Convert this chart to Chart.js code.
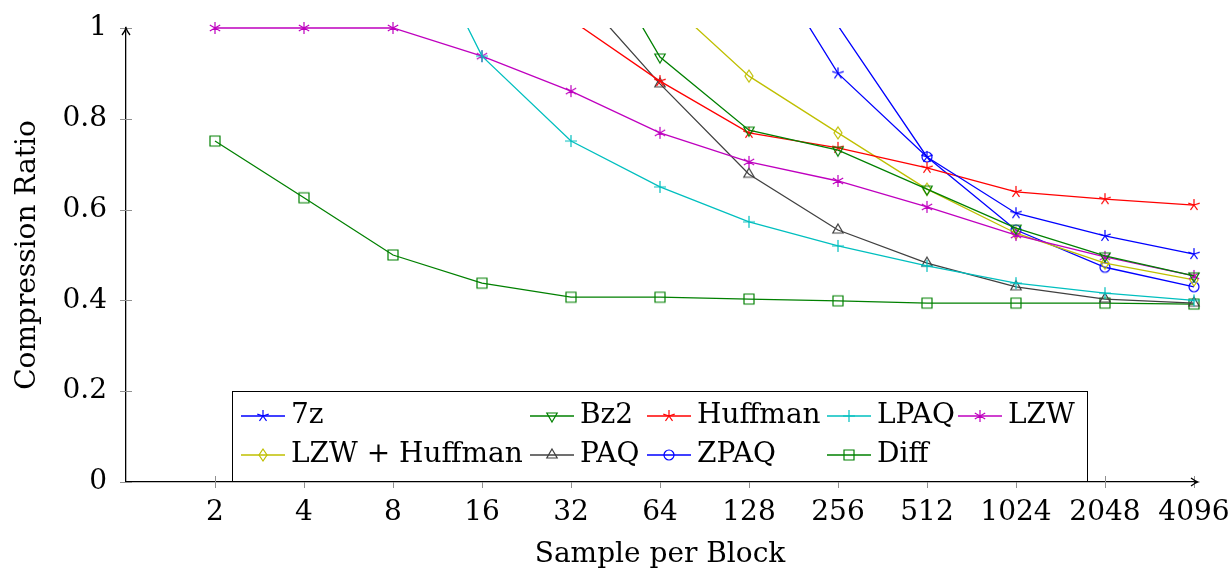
<!DOCTYPE html>
<html>
<head>
<meta charset="utf-8">
<script src="https://cdn.jsdelivr.net/npm/chart.js@4.4.1/dist/chart.umd.min.js"></script>
<style>
  html, body { margin: 0; padding: 0; background: #fff; }
  #wrap { width: 1232px; height: 572px; }
</style>
</head>
<body>
<div id="wrap"><canvas id="chart"></canvas></div>
<script>
// Sample sizes (x categories) and compression ratios
const blockSizes = [2, 4, 8, 16, 32, 64, 128, 256, 512, 1024, 2048, 4096];
const yTicks = [0, 0.2, 0.4, 0.6, 0.8, 1];

const sevenZ     = [null, null, null, null, null, null, 1.216, 0.900, 0.716, 0.592, 0.542, 0.502];
const bz2        = [null, null, null, null, 1.27, 0.936, 0.775, 0.731, 0.645, 0.559, 0.498, 0.454];
const huffman    = [null, null, null, null, 1.018, 0.883, 0.769, 0.736, 0.692, 0.639, 0.623, 0.610];
const lpaq       = [null, null, 1.33, 0.938, 0.751, 0.650, 0.573, 0.520, 0.476, 0.438, 0.416, 0.400];
const lzw        = [1.0, 1.0, 1.0, 0.938, 0.861, 0.769, 0.705, 0.663, 0.606, 0.544, 0.496, 0.454];
const lzwHuffman = [null, null, null, null, null, 1.073, 0.894, 0.769, 0.645, 0.548, 0.482, 0.445];
const paq        = [null, null, null, null, 1.097, 0.877, 0.678, 0.555, 0.482, 0.430, 0.403, 0.394];
const zpaq       = [null, null, null, null, null, null, null, 1.005, 0.716, 0.555, 0.473, 0.430];
const diff       = [0.751, 0.626, 0.500, 0.438, 0.407, 0.407, 0.403, 0.399, 0.394, 0.394, 0.394, 0.392];

const FONT = "'DejaVu Serif', serif";

// pgfplots-like marks drawn onto small canvases
function makeMark(kind, color) {
    const c = document.createElement('canvas');
    c.width = 16; c.height = 16;
    const g = c.getContext('2d');
    g.strokeStyle = color;
    g.lineWidth = 1.2;
    g.translate(8, 8);
    g.beginPath();
    const spokes = (n, r, start) => {
        for (let i = 0; i < n; i++) {
            const a = (start + i * 360 / n) * Math.PI / 180;
            g.moveTo(0, 0);
            g.lineTo(r * Math.cos(a), -r * Math.sin(a));
        }
    };
    if (kind === 'star') spokes(5, 6, 90);
    else if (kind === 'asterisk') spokes(6, 6, 90);
    else if (kind === 'plus') spokes(4, 6, 0);
    else if (kind === 'circle') g.arc(0, 0, 5, 0, Math.PI * 2);
    else if (kind === 'square') g.rect(-5, -5, 10, 10);
    else if (kind === 'diamond') { g.moveTo(0, -6); g.lineTo(4, 0); g.lineTo(0, 6); g.lineTo(-4, 0); g.closePath(); }
    else if (kind === 'triangle') { g.moveTo(0, -6); g.lineTo(5.2, 3); g.lineTo(-5.2, 3); g.closePath(); }
    else if (kind === 'triangleDown') { g.moveTo(0, 6); g.lineTo(5.2, -3); g.lineTo(-5.2, -3); g.closePath(); }
    g.stroke();
    return c;
}

const series = [
    { label: '7z', data: sevenZ, color: '#0000ff', mark: 'star' },
    { label: 'Bz2', data: bz2, color: '#008000', mark: 'triangleDown' },
    { label: 'Huffman', data: huffman, color: '#ff0000', mark: 'star' },
    { label: 'LPAQ', data: lpaq, color: '#00bfbf', mark: 'plus' },
    { label: 'LZW', data: lzw, color: '#bf00bf', mark: 'asterisk' },
    { label: 'LZW + Huffman', data: lzwHuffman, color: '#bfbf00', mark: 'diamond' },
    { label: 'PAQ', data: paq, color: '#404040', mark: 'triangle' },
    { label: 'ZPAQ', data: zpaq, color: '#0000ff', mark: 'circle' },
    { label: 'Diff', data: diff, color: '#008000', mark: 'square' }
];

const datasets = series.map(s => {
    const img = makeMark(s.mark, s.color);
    return {
        label: s.label,
        data: s.data.map((v, i) => ({ x: Math.log2(blockSizes[i]), y: v })),
        borderColor: s.color,
        backgroundColor: s.color,
        borderWidth: 1.3,
        pointStyle: img,
        pointRadius: ctx => (ctx.raw && ctx.raw.y > 1.0001) ? 0 : 5,
        pointHoverRadius: 5,
        tension: 0,
        clip: { left: 0, top: s.label === 'LZW' ? 10 : 0, right: 10, bottom: 0 },
        _img: img
    };
});

// ticks that cross the axes, plus arrow heads
const axisDecor = {
    id: 'axisDecor',
    afterDraw(chart) {
        const { ctx, chartArea: a, scales: { x, y } } = chart;
        ctx.save();
        ctx.strokeStyle = '#909090';
        ctx.lineWidth = 1;
        blockSizes.forEach(b => {
            const px = Math.round(x.getPixelForValue(Math.log2(b))) + 0.5;
            ctx.beginPath(); ctx.moveTo(px, a.bottom - 6); ctx.lineTo(px, a.bottom + 6); ctx.stroke();
        });
        yTicks.forEach(t => {
            const py = Math.round(y.getPixelForValue(t)) + 0.5;
            ctx.beginPath(); ctx.moveTo(a.left - 6, py); ctx.lineTo(a.left + 6, py); ctx.stroke();
        });
        ctx.strokeStyle = '#000';
        ctx.lineWidth = 1.3;
        ctx.beginPath();
        ctx.moveTo(a.left - 4, a.top + 7); ctx.quadraticCurveTo(a.left - 1, a.top + 3, a.left, a.top);
        ctx.quadraticCurveTo(a.left + 1, a.top + 3, a.left + 4, a.top + 7);
        ctx.moveTo(a.right, a.bottom); ctx.lineTo(a.right + 4, a.bottom);
        ctx.moveTo(a.right - 3, a.bottom - 4); ctx.quadraticCurveTo(a.right + 1, a.bottom - 1, a.right + 4, a.bottom);
        ctx.quadraticCurveTo(a.right + 1, a.bottom + 1, a.right - 3, a.bottom + 4);
        ctx.stroke();
        ctx.restore();
    }
};

// legend box laid out like the pgfplots one (5 columns)
const boxLegend = {
    id: 'boxLegend',
    afterDraw(chart) {
        const { ctx } = chart;
        const box = { left: 232.5, top: 391.5, right: 1087.5, bottom: 481.5 };
        const colX = [241, 530, 647, 827, 958];
        const rowY = [416, 455];
        ctx.save();
        ctx.fillStyle = '#fff';
        ctx.fillRect(box.left, box.top, box.right - box.left, box.bottom - box.top);
        ctx.strokeStyle = '#000';
        ctx.lineWidth = 1;
        ctx.strokeRect(box.left, box.top, box.right - box.left, box.bottom - box.top);
        ctx.font = '28px ' + FONT;
        ctx.textBaseline = 'middle';
        ctx.fillStyle = '#000';
        chart.data.datasets.forEach((ds, i) => {
            const cx = colX[i % 5];
            const cy = rowY[Math.floor(i / 5)];
            ctx.strokeStyle = ds.borderColor;
            ctx.lineWidth = 1.3;
            ctx.beginPath(); ctx.moveTo(cx, cy); ctx.lineTo(cx + 44, cy); ctx.stroke();
            ctx.drawImage(ds._img, cx + 22 - 8, cy - 8);
            ctx.fillText(ds.label, cx + 50, cy);
        });
        ctx.restore();
    }
};

new Chart(document.getElementById('chart'), {
    type: 'line',
    data: { datasets },
    options: {
        responsive: true,
        maintainAspectRatio: false,
        animation: false,
        layout: { padding: { left: 0, right: 38, top: 28, bottom: 0 } },
        plugins: { legend: { display: false }, tooltip: { enabled: false } },
        scales: {
            x: {
                type: 'linear',
                min: 0,
                max: 12,
                afterFit: s => { s.height = 90; s.paddingLeft = 0; s.paddingRight = 0; },
                afterBuildTicks: s => { s.ticks = blockSizes.map(b => ({ value: Math.log2(b) })); },
                ticks: {
                    callback: v => blockSizes[v - 1],
                    font: { family: FONT, size: 28 },
                    color: '#000',
                    padding: 14,
                    maxRotation: 0,
                    autoSkip: false
                },
                grid: { display: false, drawTicks: false },
                border: { display: true, color: '#000', width: 1.3 },
                title: {
                    display: true,
                    text: 'Sample per Block',
                    font: { family: FONT, size: 28 },
                    color: '#000',
                    padding: { top: 0, bottom: 0 }
                }
            },
            y: {
                min: 0,
                max: 1,
                afterFit: s => { s.width = 126; s.paddingTop = 0; s.paddingBottom = 0; },
                afterBuildTicks: s => { s.ticks = yTicks.map(v => ({ value: v })); },
                ticks: {
                    callback: v => String(v),
                    font: { family: FONT, size: 28 },
                    color: '#000',
                    padding: 19
                },
                grid: { display: false, drawTicks: false },
                border: { display: true, color: '#000', width: 1.3 },
                title: {
                    display: true,
                    text: 'Compression Ratio',
                    font: { family: FONT, size: 28 },
                    color: '#000',
                    padding: { top: 11, bottom: 0 }
                }
            }
        }
    },
    plugins: [axisDecor, boxLegend]
});
</script>
</body>
</html>
